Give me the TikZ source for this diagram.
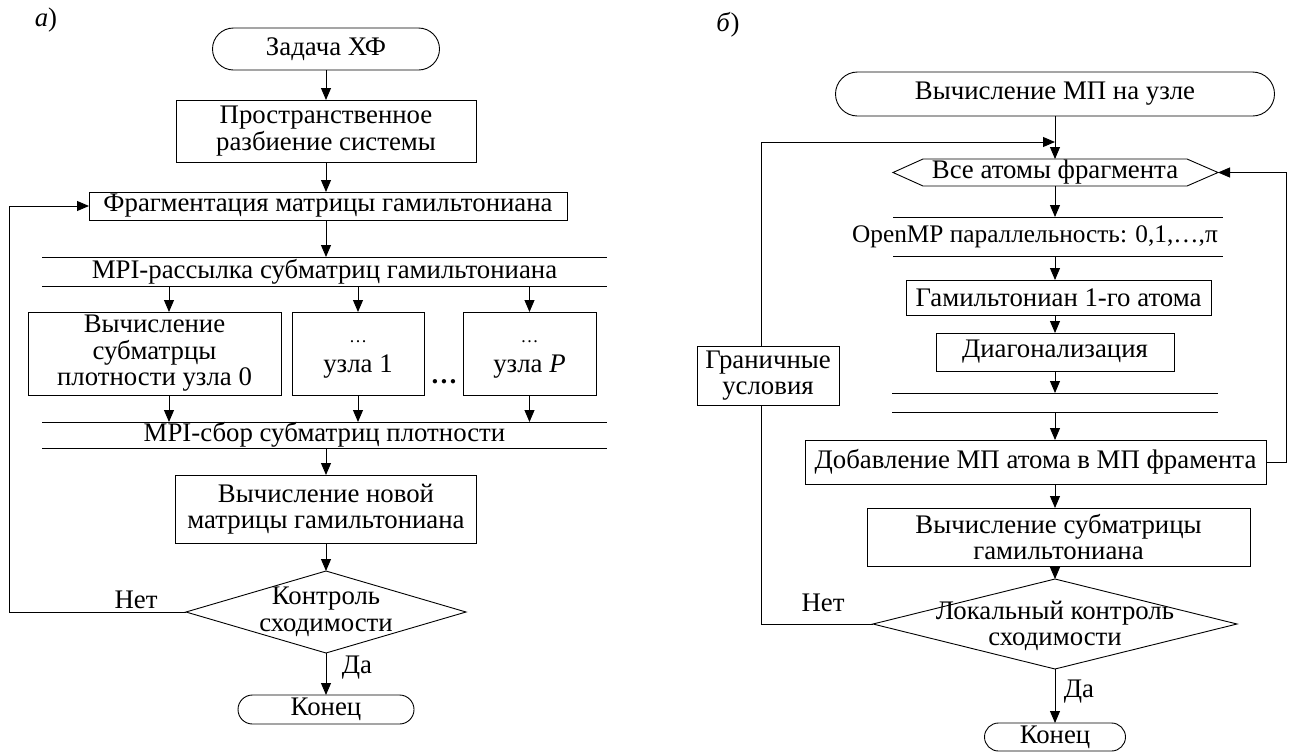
\documentclass[tikz,border=0pt]{standalone}
\usepackage{fontspec}
\setmainfont{Liberation Serif}
\usetikzlibrary{arrows.meta,shapes.geometric,shapes.misc}
\begin{document}
\begin{tikzpicture}[x=1pt,y=-1pt,
  every node/.style={inner sep=0pt, outer sep=0pt, align=center, font=\fontsize{26.8}{26.5}\selectfont},
  box/.style={draw, line width=0.9pt, rectangle},
  term/.style={draw, line width=0.9pt, rounded rectangle},
  dec/.style={draw, line width=0.9pt, diamond},
  arr/.style={line width=0.9pt, -{Triangle[length=12pt,width=10pt]}},
  ln/.style={line width=0.9pt},
  lab/.style={font=\fontsize{26.8}{26.5}\selectfont},
]
\useasboundingbox (0,0) rectangle (1293,753);

% ---------- left (a) ----------
\node (na) at (46,20) {\textit{а})};
\node[term, minimum width=227, minimum height=42] (zad) at (326,49) {Задача ХФ};
\node[box, minimum width=300, minimum height=62] (prost) at (326,131) {Пространственное\\разбиение системы};
\node[box, minimum width=478, minimum height=28] (frag) at (328,206) {Фрагментация матрицы гамильтониана};
\node[minimum width=565, minimum height=29] (par1) at (324.5,271.5) {MPI-рассылка субматриц гамильтониана};
\draw[ln] (par1.north west) -- (par1.north east) (par1.south west) -- (par1.south east);
\node[box, minimum width=253, minimum height=83] (b1) at (154.5,353.5) {Вычисление\\субматрцы\\плотности узла 0};
\node[box, minimum width=132, minimum height=83,
      label={[lab,yshift=-6pt]center:{{\fontsize{18}{18}\selectfont …}\\[3pt]узла 1}}] (b2) at (358,353.5) {};
\node[box, minimum width=133, minimum height=83,
      label={[lab,yshift=-6pt]center:{{\fontsize{18}{18}\selectfont …}\\[3pt]узла \textit{P}}}] (b3) at (529.5,353.5) {};
\node (dots) at (444,382) {\textbf{…}};
\node[minimum width=565, minimum height=26] (par2) at (324.5,435) {MPI-сбор субматриц плотности};
\draw[ln] (par2.north west) -- (par2.north east) (par2.south west) -- (par2.south east);
\node[box, minimum width=301, minimum height=68] (nov) at (326,509) {Вычисление новой\\матрицы гамильтониана};
\node[dec, minimum width=280, minimum height=82, label={[lab]center:Контроль\\сходимости}] (kon) at (326,612) {};
\node[term, minimum width=176, minimum height=29] (end1) at (326,709.5) {Конец};
\node (net1) at (136,600) {Нет};
\node (da1) at (357,668) {Да};
\coordinate (L1) at (9,0);
\coordinate (c1) at (169,0);

\draw[arr] (zad) -- (prost);
\draw[arr] (prost.south) -- (prost.south |- frag.north);
\draw[arr] (frag.south -| prost) -- (par1.north -| prost);
\draw[arr] (par1.south -| c1) -- (b1.north -| c1);
\draw[arr] (par1.south -| b2) -- (b2.north);
\draw[arr] (par1.south -| b3) -- (b3.north);
\draw[arr] (b1.south -| c1) -- (par2.north -| c1);
\draw[arr] (b2.south) -- (par2.north -| b2);
\draw[arr] (b3.south) -- (par2.north -| b3);
\draw[arr] (par2.south -| nov) -- (nov.north);
\draw[arr] (nov.south) -- (kon.north);
\draw[arr] (kon.south) -- (end1.north);
\draw[arr] (kon.west) -- (L1 |- kon.west) -- (L1 |- frag.west) -- (frag.west);

% ---------- right (b) ----------
\node (nb) at (728,25) {\textit{б})};
\node[term, minimum width=439, minimum height=44] (vmp) at (1055,94) {Вычисление МП на узле};
\node[minimum width=264, minimum height=27] (hex) at (1055,172.5) {Все атомы фрагмента};
\coordinate (hexL) at (893,172.5);
\coordinate (hexR) at (1218,172.5);
\draw[ln] (hex.north west) -- (hex.north east) -- (hexR) -- (hex.south east) -- (hex.south west) -- (hexL) -- cycle;
\node[minimum width=330, minimum height=39] (omp) at (1058,236.5) {};
\draw[ln] (omp.north west) -- (omp.north east) (omp.south west) -- (omp.south east);
\node[font=\fontsize{25.3}{25}\selectfont] (omptxt) at (1035,237) {OpenMP параллельность: 0,1,…,π};
\node[box, minimum width=305, minimum height=35] (ham) at (1058.5,297.5) {Гамильтониан 1-го атома};
\node[box, minimum width=238, minimum height=38] (diag) at (1055,352) {Диагонализация};
\node[minimum width=326, minimum height=19] (emp) at (1055,402.5) {};
\draw[ln] (emp.north west) -- (emp.north east) (emp.south west) -- (emp.south east);
\node[box, minimum width=461, minimum height=44] (dob) at (1035.5,462) {Добавление МП атома в МП фрамента};
\node[box, minimum width=383, minimum height=58] (sub) at (1058.5,537) {Вычисление субматрицы\\гамильтониана};
\node[dec, minimum width=364, minimum height=90, label={[lab,yshift=-2pt]center:Локальный контроль\\сходимости}] (lok) at (1055,624) {};
\node[term, minimum width=141, minimum height=28] (end2) at (1055,737) {Конец};
\node (net2) at (823,603) {Нет};
\node (da2) at (1079,692) {Да};
\coordinate (ax) at (1055,0);
\coordinate (J) at (1055,142);
\coordinate (L2) at (761,0);
\coordinate (R2) at (1286,0);

\draw[arr] (vmp.south) -- (hex.north);
\draw[arr] (lok.west) -- (L2 |- lok.west) -- (L2 |- J) -- (J);
\node[box, fill=white, minimum width=142, minimum height=59] (gran) at (768,375.5) {Граничные\\условия};
\draw[arr] (dob.east) -- (R2 |- dob.east) -- (R2 |- hexR) -- (hexR);
\draw[arr] (hex.south) -- (omp.north -| ax);
\draw[arr] (omp.south -| ax) -- (ham.north -| ax);
\draw[arr] (ham.south -| ax) -- (diag.north);
\draw[arr] (diag.south) -- (emp.north);
\draw[arr] (emp.south) -- (dob.north -| ax);
\draw[arr] (dob.south -| ax) -- (sub.north -| ax);
\draw[arr] (sub.south -| ax) -- (lok.north);
\draw[arr] (lok.south) -- (end2.north);
\end{tikzpicture}
\end{document}
